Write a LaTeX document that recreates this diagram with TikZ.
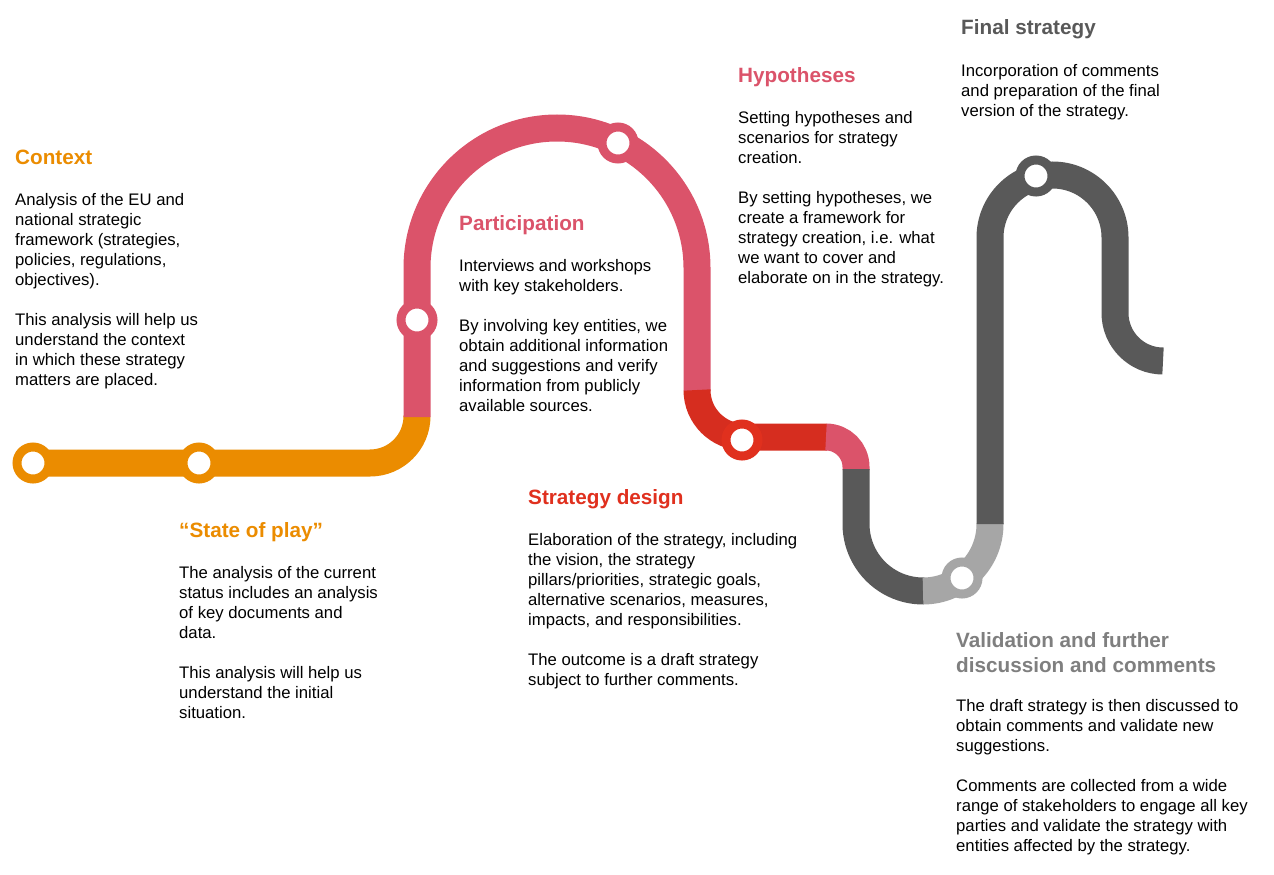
\documentclass[tikz,border=0pt]{standalone}
\usepackage{fontspec}
\setmainfont{Liberation Sans}
\definecolor{pwcorange}{HTML}{EB8C00}
\definecolor{pwcpink}{HTML}{DB536A}
\definecolor{pwcredline}{HTML}{D62D1F}
\definecolor{pwcred}{HTML}{E0301E}
\definecolor{pwcdark}{HTML}{595959}
\definecolor{pwclight}{HTML}{A6A6A6}
\definecolor{pwcgreytitle}{HTML}{7F7F7F}
\tikzset{
  track/.style={line width=27pt, line cap=butt},
  stationring/.style={circle, draw=#1, line width=9pt, fill=white, minimum size=32pt, inner sep=0pt},
  ttl/.style={anchor=base west, inner sep=0pt, font=\fontsize{20.7}{25}\selectfont\bfseries, text=#1, align=left},
  bodytext/.style={anchor=base west, inner sep=0pt, font=\fontsize{16.7}{20}\selectfont, text=black, align=left},
}
\begin{document}
\begin{tikzpicture}[x=1pt, y=-1pt]
\useasboundingbox (0,0) rectangle (1274,875);
\fill[white] (0,0) rectangle (1274,875);

% track segments
\draw[track, pwcorange, rounded corners=47] (33,463) -- (417,463) -- (417,416);
\draw[track, pwcpink] (417,417) -- (417,268) arc[start angle=180, end angle=360, radius=140] -- (697,391);
\draw[track, pwcredline, rounded corners=47] (697,390) -- (697,437) -- (827,437);
\draw[track, pwcpink, rounded corners=30] (826,437) -- (856,437) -- (856,470);
\draw[track, pwcdark] (856,469) -- (856,524) arc[start angle=180, end angle=89, radius=67];
\draw[track, pwclight] (923,591) arc[start angle=90, end angle=0, radius=67] -- (990,523);
\draw[track, pwcdark] (990,524) -- (990,237.5) arc[start angle=180, end angle=360, radius=62.5] -- (1115,313) arc[start angle=180, end angle=90, radius=48];

% stations
\node[stationring=pwcorange] (s1) at (33,463) {};
\node[stationring=pwcorange] (s2) at (199,463) {};
\node[stationring=pwcpink] (s3) at (417,320) {};
\node[stationring=pwcpink] (s4) at (618,143) {};
\node[stationring=pwcred] (s5) at (742,440) {};
\node[stationring=pwclight] (s6) at (962,578) {};
\node[stationring=pwcdark] (s7) at (1036,176) {};

% texts (multi-line nodes: base = last line's baseline)
\node[ttl=pwcorange] (t1) at (15,164) {Context};
\node[bodytext] (b1) at (15,385) {Analysis of the EU and\\ national strategic\\ framework (strategies,\\ policies, regulations,\\ objectives).\\[20pt] This analysis will help us\\ understand the context\\ in which these strategy\\ matters are placed.};

\node[ttl=pwcorange] (t2) at (179,537) {“State of play”};
\node[bodytext] (b2) at (179,718) {The analysis of the current\\ status includes an analysis\\ of key documents and\\ data.\\[20pt] This analysis will help us\\ understand the initial\\ situation.};

\node[ttl=pwcpink] (t3) at (459,230) {Participation};
\node[bodytext] (b3) at (459,411) {Interviews and workshops\\ with key stakeholders.\\[20pt] By involving key entities, we\\ obtain additional information\\ and suggestions and verify\\ information from publicly\\ available sources.};

\node[ttl=pwcred] (t4) at (528,504) {Strategy design};
\node[bodytext] (b4) at (528,685) {Elaboration of the strategy, including\\ the vision, the strategy\\ pillars/priorities, strategic goals,\\ alternative scenarios, measures,\\ impacts, and responsibilities.\\[20pt] The outcome is a draft strategy\\ subject to further comments.};

\node[ttl=pwcpink] (t5) at (738,82) {Hypotheses};
\node[bodytext] (b5) at (738,283) {Setting hypotheses and\\ scenarios for strategy\\ creation.\\[20pt] By setting hypotheses, we\\ create a framework for\\ strategy creation, i.e. what\\ we want to cover and\\ elaborate on in the strategy.};

\node[ttl=pwcdark] (t6) at (961,35) {Final strategy};
\node[bodytext] (b6) at (961,116.7) {Incorporation of comments\\ and preparation of the final\\ version of the strategy.};

\node[ttl=pwcgreytitle] (t7) at (956,672) {Validation and further\\ discussion and comments};
\node[bodytext] (b7) at (956,851.7) {The draft strategy is then discussed to\\ obtain comments and validate new\\ suggestions.\\[20pt] Comments are collected from a wide\\ range of stakeholders to engage all key\\ parties and validate the strategy with\\ entities affected by the strategy.};
\end{tikzpicture}
\end{document}
